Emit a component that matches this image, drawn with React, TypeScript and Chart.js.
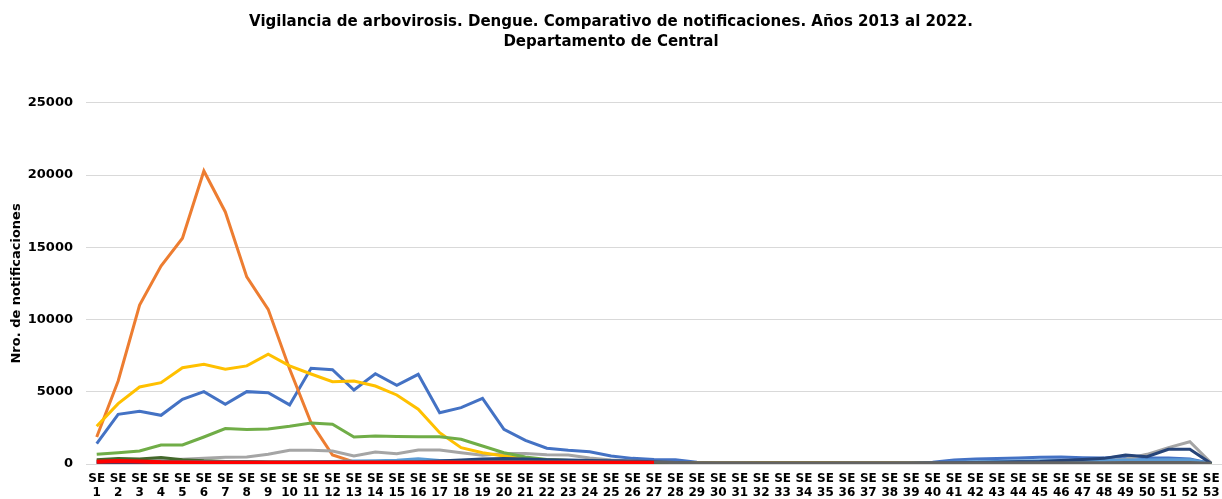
import React, { useEffect, useRef } from 'react';
import { Chart, registerables } from 'chart.js';

Chart.register(...registerables);

const titleLines = [
  'Vigilancia de arbovirosis. Dengue. Comparativo de notificaciones. Años 2013 al 2022.',
  'Departamento de Central',
];
const yAxisTitle = 'Nro. de notificaciones';

const weekLabels = [
  'SE 1', 'SE 2', 'SE 3', 'SE 4', 'SE 5', 'SE 6', 'SE 7', 'SE 8', 'SE 9', 'SE 10',
  'SE 11', 'SE 12', 'SE 13', 'SE 14', 'SE 15', 'SE 16', 'SE 17', 'SE 18', 'SE 19', 'SE 20',
  'SE 21', 'SE 22', 'SE 23', 'SE 24', 'SE 25', 'SE 26', 'SE 27', 'SE 28', 'SE 29', 'SE 30',
  'SE 31', 'SE 32', 'SE 33', 'SE 34', 'SE 35', 'SE 36', 'SE 37', 'SE 38', 'SE 39', 'SE 40',
  'SE 41', 'SE 42', 'SE 43', 'SE 44', 'SE 45', 'SE 46', 'SE 47', 'SE 48', 'SE 49', 'SE 50',
  'SE 51', 'SE 52', 'SE 53',
];

const seriesBlue = [1410, 3440, 3650, 3370, 4480, 5010, 4130, 5010, 4940, 4090, 6630, 6530, 5120, 6250, 5450, 6210, 3550, 3900, 4550, 2400, 1640, 1090, 950, 850, 550, 390, 320, 300, 120, 60, 50, 50, 50, 50, 50, 50, 50, 50, 60, 120, 280, 340, 380, 420, 470, 490, 440, 420, 520, 430, 410, 350, 30];
const seriesOrange = [1870, 5750, 11010, 13710, 15630, 20290, 17450, 12950, 10710, 6580, 2860, 620, 150, 80, 60, 50, 50, 40, 40, 30, 30, 30, 30, 30, 30, 30, 30, 30, 30, 30, 30, 30, 30, 30, 30, 30, 30, 30, 30, 30, 30, 40, 40, 40, 40, 40, 50, 50, 50, 60, 60, 60, 40];
const seriesGray = [250, 280, 300, 280, 330, 390, 470, 480, 670, 950, 960, 900, 550, 830, 710, 970, 970, 780, 600, 720, 720, 640, 620, 420, 280, 200, 150, 100, 60, 40, 40, 40, 40, 40, 40, 40, 40, 40, 40, 50, 60, 70, 80, 90, 100, 120, 150, 200, 350, 670, 1130, 1540, 60];
const seriesYellow = [2610, 4180, 5330, 5630, 6670, 6900, 6560, 6790, 7600, 6790, 6230, 5700, 5750, 5400, 4780, 3790, 2170, 1130, 780, 550, 390, 300, 250, 200, 150, 120, 100, 100, 80, 80, 80, 100, 100, 100, 100, 80, 80, 80, 80, 80, 60, 60, 60, 60, 50, 50, 40, 40, 40, 40, 40, 40, 20];
const seriesLightBlue = [100, 100, 100, 100, 100, 100, 100, 100, 100, 120, 150, 180, 200, 230, 260, 360, 250, 250, 250, 200, 200, 150, 120, 100, 80, 60, 50, 40, 30, 30, 30, 30, 30, 30, 30, 30, 30, 40, 60, 80, 120, 150, 180, 200, 220, 240, 250, 260, 280, 280, 300, 300, 40];
const seriesGreen = [670, 780, 900, 1320, 1320, 1870, 2450, 2380, 2420, 2610, 2840, 2750, 1870, 1940, 1900, 1890, 1890, 1710, 1250, 780, 480, 320, 250, 150, 100, 80, 60, 50, 40, 30, 30, 30, 30, 30, 30, 30, 30, 30, 30, 30, 30, 30, 30, 30, 30, 30, 30, 30, 30, 30, 30, 30, 20];
const seriesDarkBlue = [50, 50, 50, 50, 50, 50, 50, 50, 50, 50, 60, 60, 80, 100, 120, 150, 200, 280, 350, 380, 350, 300, 280, 250, 220, 200, 150, 100, 60, 50, 50, 50, 50, 50, 50, 50, 50, 50, 60, 70, 80, 100, 120, 150, 180, 250, 320, 390, 620, 500, 1020, 1020, 30];
const seriesDarkGreen = [300, 380, 350, 450, 300, 220, 180, 150, 120, 100, 100, 80, 80, 80, 80, 80, 80, 60, 50, 40, 30, 30, 30, 30, 30, 30, 30, 30, 20, 20, 20, 20, 20, 20, 20, 20, 20, 20, 20, 20, 20, 20, 20, 20, 20, 20, 20, 20, 20, 20, 20, 20, 20];
const seriesDarkGray = [150, 180, 180, 180, 180, 170, 170, 170, 160, 160, 160, 160, 160, 160, 160, 160, 160, 160, 160, 150, 150, 150, 150, 150, 140, 130, 120, 100, 90, 80, 80, 80, 80, 80, 80, 80, 80, 80, 80, 80, 80, 80, 80, 80, 80, 80, 90, 90, 100, 100, 100, 100, 60];
const seriesRed = [160, 200, 180, 120, 100, 90, 90, 80, 80, 80, 80, 80, 80, 80, 80, 80, 100, 80, 80, 80, 80, 80, 80, 80, 80, 80, 80];

const seriesNames = ['2013', '2014', '2015', '2016', '2017', '2018', '2019', '2020', '2021', '2022'];
const seriesColors = ['#4472C4', '#ED7D31', '#A5A5A5', '#FFC000', '#5B9BD5', '#70AD47', '#264478', '#43682B', '#636363', '#FF0000'];
const seriesValues = [seriesBlue, seriesOrange, seriesGray, seriesYellow, seriesLightBlue, seriesGreen, seriesDarkBlue, seriesDarkGreen, seriesDarkGray, seriesRed];

const FONT = '"DejaVu Sans", Verdana, sans-serif';

export default function App() {
  const canvasRef = useRef<HTMLCanvasElement | null>(null);

  useEffect(() => {
    if (!canvasRef.current) return;
    const chart = new Chart(canvasRef.current, {
      type: 'line',
      data: {
        labels: weekLabels.map((l) => l.split(' ')),
        datasets: seriesValues.map((vals, i) => ({
          label: seriesNames[i],
          data: vals,
          borderColor: seriesColors[i],
          backgroundColor: seriesColors[i],
          borderWidth: i === 9 ? 4 : 3,
          pointRadius: 0,
          tension: 0,
          fill: false,
          order: 10 - i,
        })),
      },
      options: {
        animation: false,
        responsive: true,
        maintainAspectRatio: false,
        layout: { padding: { left: 0, right: 0, top: 0, bottom: 0 } },
        plugins: {
          legend: { display: false },
          tooltip: { enabled: false },
          title: {
            display: true,
            text: titleLines,
            color: '#000',
            font: { family: FONT, size: 15, weight: 'bold', lineHeight: 1.33 },
            padding: { top: 12, bottom: 51 },
          },
        },
        scales: {
          x: {
            offset: true,
            afterFit: (scale: any) => {
              scale.height = 35;
              scale.paddingLeft = 0;
              scale.paddingRight = 0;
            },
            grid: { display: false, drawTicks: false },
            border: { display: false },
            ticks: {
              autoSkip: false,
              maxRotation: 0,
              minRotation: 0,
              padding: 8,
              color: '#000',
              font: { family: FONT, size: 12, weight: 'bold', lineHeight: 1.17 },
            },
          },
          y: {
            min: 0,
            max: 25000,
            afterFit: (scale: any) => {
              scale.width = 86;
            },
            ticks: {
              stepSize: 5000,
              padding: 13,
              color: '#000',
              font: { family: FONT, size: 13, weight: 'bold' },
              callback: (v: any) => String(v),
            },
            grid: { color: '#D9D9D9', lineWidth: 1, drawTicks: false },
            border: { display: false },
            title: {
              display: true,
              text: yAxisTitle,
              color: '#000',
              font: { family: FONT, size: 13, weight: 'bold' },
              padding: { top: 9, bottom: 0 },
            },
          },
        },
      },
    });
    return () => chart.destroy();
  }, []);

  return (
    <div style={{ position: 'fixed', left: 0, top: 0, width: 1222, height: 499, background: '#fff' }}>
      <canvas ref={canvasRef} />
    </div>
  );
}
